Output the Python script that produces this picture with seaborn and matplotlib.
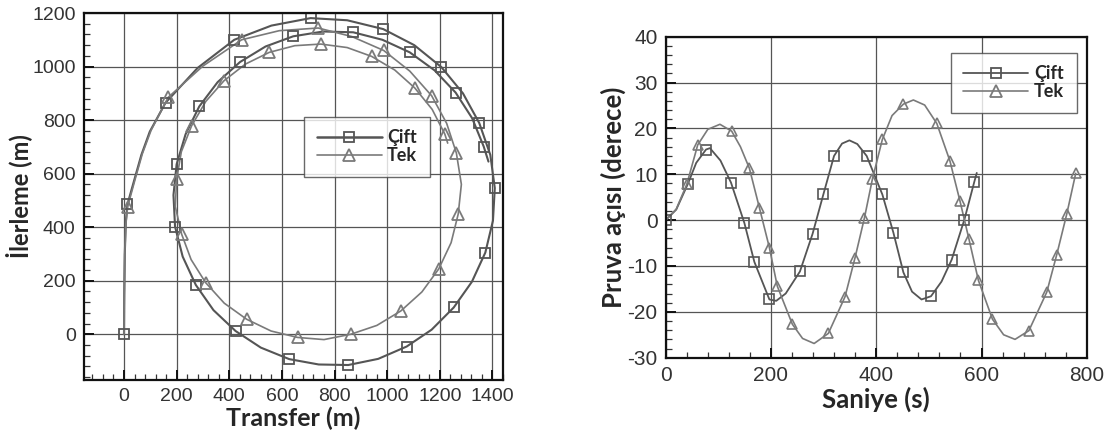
import numpy as np
import pandas as pd
import seaborn as sns
import matplotlib.pyplot as plt
from matplotlib.lines import Line2D
from matplotlib.ticker import MultipleLocator

# --- left panel: turning circle (Transfer vs Ilerleme) ---
cift_path_x = [0, 1, 3, 7, 13, 41, 66, 98, 158, 280, 419, 560, 709, 848, 985, 1103, 1206, 1288,
               1350, 1392, 1409, 1402, 1373, 1322, 1253, 1169, 1074, 966, 852, 740, 628, 520,
               424, 340, 273, 223, 194, 188, 200, 234, 286, 356, 441, 538, 643, 757, 871, 982,
               1086, 1180, 1260, 1323, 1367, 1385]
cift_path_y = [0, 150, 300, 420, 485, 583, 670, 757, 865, 995, 1100, 1153, 1181, 1173, 1140, 1080,
               998, 900, 789, 670, 546, 424, 305, 196, 100, 17, -46, -92, -115, -113, -93, -50,
               12, 90, 184, 290, 402, 520, 635, 747, 851, 942, 1017, 1075, 1113, 1131, 1128, 1100,
               1053, 986, 903, 807, 701, 645]
cift_mark_x = [0, 13, 158, 419, 709, 985, 1206, 1350, 1409, 1373, 1253, 1074, 852, 628, 424,
               273, 194, 200, 286, 441, 643, 871, 1086, 1260, 1367]
cift_mark_y = [0, 485, 865, 1100, 1181, 1140, 998, 789, 546, 305, 100, -46, -115, -93, 12,
               184, 402, 635, 851, 1017, 1113, 1128, 1053, 903, 701]

tek_path_x = [0, 1, 3, 7, 14, 44, 70, 103, 168, 300, 447, 590, 738, 866, 987, 1086, 1169, 1226,
              1263, 1282, 1270, 1243, 1196, 1132, 1052, 961, 862, 760, 660, 559, 466, 381, 310,
              255, 219, 195, 200, 218, 257, 311, 380, 461, 552, 649, 748, 848, 941, 1029, 1105,
              1171, 1219, 1230]
tek_path_y = [0, 150, 300, 410, 477, 585, 675, 762, 885, 1002, 1100, 1134, 1144, 1112, 1060, 983,
              891, 788, 677, 560, 449, 342, 244, 158, 87, 33, 0, -20, -12, 12, 56, 116, 193,
              279, 374, 477, 579, 682, 779, 870, 947, 1009, 1053, 1078, 1084, 1071, 1038, 987,
              920, 840, 748, 714]
tek_mark_x = [14, 168, 447, 738, 987, 1169, 1263, 1270, 1196, 1052, 862, 660, 466, 310, 219,
              200, 257, 380, 552, 748, 941, 1105, 1219]
tek_mark_y = [477, 885, 1100, 1144, 1060, 891, 677, 449, 244, 87, 0, -12, 56, 193, 374,
              579, 779, 947, 1053, 1084, 1038, 920, 748]

# --- right panel: heading angle vs time ---
cift_t = [0, 20, 41.7, 58, 76.6, 84, 104, 124, 149.4, 168.4, 197, 210, 228, 255, 279, 299.5,
          319.8, 335, 349, 364, 381.8, 411.6, 432.5, 451.6, 468, 486, 504, 524, 543.4, 567.4,
          586.4, 591]
cift_deg = [0, 2.3, 7.8, 12.5, 15.4, 15.7, 13.0, 8.2, -0.6, -9.1, -17.3, -17.6, -16.0, -11.2,
            -3.0, 5.6, 14.0, 16.7, 17.4, 16.6, 14.0, 5.6, -2.7, -11.4, -15.6, -17.3, -16.6,
            -13.4, -8.6, 0.1, 8.4, 10.3]
cift_mark_t = [0, 41.7, 76.6, 124, 149.4, 168.4, 197, 255, 279, 299.5, 319.8, 381.8, 411.6,
               432.5, 451.6, 504, 543.4, 567.4, 586.4]
cift_mark_deg = [0, 7.8, 15.4, 8.2, -0.6, -9.1, -17.3, -11.2, -3.0, 5.6, 14.0, 14.0, 5.6,
                 -2.7, -11.4, -16.6, -8.6, 0.1, 8.4]

tek_t = [0, 20, 40, 60.8, 80, 103, 125.4, 142, 159, 178, 197, 212, 240.6, 260, 282, 309,
         340.7, 359.7, 377.4, 392.6, 411.6, 430, 451.6, 470.5, 492, 515, 540, 559, 576.3, 594,
         620.8, 642, 663.7, 690, 724, 743, 761.9, 779]
tek_deg = [0, 2.4, 7.8, 16.4, 19.8, 20.9, 19.4, 16.0, 11.3, 2.7, -6.0, -14.4, -22.7, -25.8,
           -26.9, -24.7, -16.7, -8.2, 0.4, 8.9, 17.6, 22.8, 25.3, 26.2, 25.1, 21.1, 12.9, 4.2,
           -4.2, -13.1, -21.6, -25.0, -26.0, -24.1, -15.7, -7.5, 1.3, 10.2]
tek_mark_t = [40, 60.8, 125.4, 159, 178, 197, 212, 240.6, 309, 340.7, 359.7, 377.4, 392.6,
              411.6, 451.6, 515, 540, 559, 576.3, 594, 620.8, 690, 724, 743, 761.9, 779]
tek_mark_deg = [7.8, 16.4, 19.4, 11.3, 2.7, -6.0, -14.4, -22.7, -24.7, -16.7, -8.2, 0.4, 8.9,
                17.6, 25.3, 21.1, 12.9, 4.2, -4.2, -13.1, -21.6, -24.1, -15.7, -7.5, 1.3, 10.2]

labels = ["Çift", "Tek"]

sns.set_theme(style="white")
plt.rcParams['font.family'] = ['Liberation Sans', 'DejaVu Sans']
plt.rcParams['axes.unicode_minus'] = False

c_col, t_col = "#555555", "#7a7a7a"
bold = dict(family=["Lato", "DejaVu Sans"], weight="bold")

fig = plt.figure(figsize=(11.11, 4.34), dpi=100)
ax1 = fig.add_axes([0.0756, 0.1244, 0.3771, 0.8456])
ax2 = fig.add_axes([0.5992, 0.1758, 0.3790, 0.7396])

# left panel
sns.lineplot(x=cift_path_x, y=cift_path_y, sort=False, estimator=None, color=c_col, lw=1.5, ax=ax1)
sns.lineplot(x=tek_path_x, y=tek_path_y, sort=False, estimator=None, color=t_col, lw=1.2, ax=ax1)
ax1.plot(cift_mark_x, cift_mark_y, ls="none", marker="s", ms=7, mfc="none", mec=c_col, mew=1.3)
ax1.plot(tek_mark_x, tek_mark_y, ls="none", marker="^", ms=8, mfc="none", mec=t_col, mew=1.3)
ax1.set_xlim(-152, 1440)
ax1.set_ylim(-171, 1200)
ax1.xaxis.set_major_locator(MultipleLocator(200))
ax1.xaxis.set_minor_locator(MultipleLocator(40))
ax1.yaxis.set_major_locator(MultipleLocator(200))
ax1.yaxis.set_minor_locator(MultipleLocator(40))
ax1.set_xlabel("Transfer (m)", fontsize=18, labelpad=1, **bold)
ax1.set_ylabel("İlerleme (m)", fontsize=17, labelpad=0, **bold)

# right panel
sns.lineplot(x=cift_t, y=cift_deg, sort=False, estimator=None, color=c_col, lw=1.3, ax=ax2)
sns.lineplot(x=tek_t, y=tek_deg, sort=False, estimator=None, color=t_col, lw=1.2, ax=ax2)
ax2.plot(cift_mark_t, cift_mark_deg, ls="none", marker="s", ms=6.5, mfc="none", mec=c_col, mew=1.2)
ax2.plot(tek_mark_t, tek_mark_deg, ls="none", marker="^", ms=7.5, mfc="none", mec=t_col, mew=1.2)
ax2.set_xlim(0, 800)
ax2.set_ylim(-30, 40)
ax2.xaxis.set_major_locator(MultipleLocator(200))
ax2.xaxis.set_minor_locator(MultipleLocator(40))
ax2.yaxis.set_major_locator(MultipleLocator(10))
ax2.yaxis.set_minor_locator(MultipleLocator(2))
ax2.set_xlabel("Saniye (s)", fontsize=18.5, labelpad=1, **bold)
ax2.set_ylabel("Pruva açısı (derece)", fontsize=18.5, labelpad=1, **bold)

for ax, fs in ((ax1, 14), (ax2, 15)):
    ax.set_axisbelow(True)
    ax.grid(True, which="major", color="#555555", lw=0.9)
    for s in ax.spines.values():
        s.set_color("#111111")
        s.set_linewidth(1.6)
    ax.tick_params(which="major", direction="in", length=7, width=1.4, colors="#111111",
                   labelcolor="#333333", labelsize=fs, pad=6, top=False, right=False,
                   bottom=True, left=True)
    ax.tick_params(which="minor", direction="in", length=4, width=0.9, colors="#333333",
                   top=False, right=False, bottom=True, left=True)
    if ax is ax1:
        anchor, lw_c = (0.525, 0.718), 1.8
    else:
        anchor, lw_c = (0.677, 0.950), 1.3
    handles = [Line2D([0], [0], color=c_col, lw=lw_c, marker="s", ms=7, mfc="none", mew=1.3),
               Line2D([0], [0], color=t_col, lw=1.2, marker="^", ms=8, mfc="none", mew=1.3)]
    leg = ax.legend(handles, labels, loc="upper left", bbox_to_anchor=anchor, borderaxespad=0,
                    frameon=True, fancybox=False, edgecolor="#444444", handlelength=3.6,
                    labelspacing=0.05, borderpad=0.7, handletextpad=0.3,
                    prop=dict(family=["Lato", "DejaVu Sans"], weight="bold", size=13))
    leg.get_frame().set_linewidth(1.0)

fig.savefig("out.png", dpi=100)
